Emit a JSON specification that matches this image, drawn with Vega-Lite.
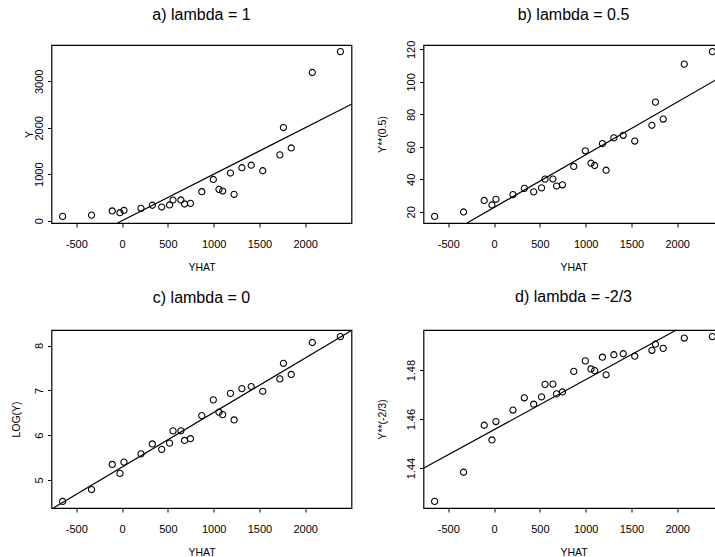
{
  "$schema": "https://vega.github.io/schema/vega-lite/v6.json",
  "background": "white",
  "padding": {"left": 10.5, "top": 5, "right": 0, "bottom": 0},
  "datasets": {
    "pts": [
      {"YHAT": -650, "Y": 92, "Y05": 17.18, "LOGY": 4.522, "Y23": 1.4264},
      {"YHAT": -334, "Y": 120, "Y05": 19.91, "LOGY": 4.787, "Y23": 1.4383},
      {"YHAT": -108, "Y": 210, "Y05": 26.98, "LOGY": 5.347, "Y23": 1.4575},
      {"YHAT": -24, "Y": 172, "Y05": 24.23, "LOGY": 5.147, "Y23": 1.4515},
      {"YHAT": 20, "Y": 221, "Y05": 27.73, "LOGY": 5.398, "Y23": 1.459},
      {"YHAT": 206, "Y": 266, "Y05": 30.62, "LOGY": 5.583, "Y23": 1.4637},
      {"YHAT": 330, "Y": 332, "Y05": 34.44, "LOGY": 5.805, "Y23": 1.4687},
      {"YHAT": 432, "Y": 294, "Y05": 32.29, "LOGY": 5.684, "Y23": 1.4661},
      {"YHAT": 518, "Y": 338, "Y05": 34.77, "LOGY": 5.823, "Y23": 1.4691},
      {"YHAT": 556, "Y": 444, "Y05": 40.14, "LOGY": 6.096, "Y23": 1.4742},
      {"YHAT": 642, "Y": 445, "Y05": 40.19, "LOGY": 6.098, "Y23": 1.4743},
      {"YHAT": 682, "Y": 359, "Y05": 35.89, "LOGY": 5.883, "Y23": 1.4703},
      {"YHAT": 746, "Y": 373, "Y05": 36.63, "LOGY": 5.922, "Y23": 1.4711},
      {"YHAT": 870, "Y": 624, "Y05": 47.96, "LOGY": 6.436, "Y23": 1.4795},
      {"YHAT": 996, "Y": 887, "Y05": 57.57, "LOGY": 6.788, "Y23": 1.4838},
      {"YHAT": 1058, "Y": 674, "Y05": 49.92, "LOGY": 6.513, "Y23": 1.4805},
      {"YHAT": 1098, "Y": 638, "Y05": 48.52, "LOGY": 6.458, "Y23": 1.4798},
      {"YHAT": 1183, "Y": 1026, "Y05": 62.06, "LOGY": 6.933, "Y23": 1.4853},
      {"YHAT": 1223, "Y": 567, "Y05": 45.62, "LOGY": 6.34, "Y23": 1.4781},
      {"YHAT": 1308, "Y": 1140, "Y05": 65.53, "LOGY": 7.039, "Y23": 1.4863},
      {"YHAT": 1410, "Y": 1194, "Y05": 67.11, "LOGY": 7.085, "Y23": 1.4867},
      {"YHAT": 1536, "Y": 1075, "Y05": 63.57, "LOGY": 6.98, "Y23": 1.4857},
      {"YHAT": 1723, "Y": 1417, "Y05": 73.29, "LOGY": 7.256, "Y23": 1.4881},
      {"YHAT": 1762, "Y": 2005, "Y05": 87.55, "LOGY": 7.603, "Y23": 1.4906},
      {"YHAT": 1847, "Y": 1565, "Y05": 77.12, "LOGY": 7.356, "Y23": 1.4889},
      {"YHAT": 2077, "Y": 3190, "Y05": 110.96, "LOGY": 8.068, "Y23": 1.4931},
      {"YHAT": 2384, "Y": 3640, "Y05": 118.66, "LOGY": 8.2, "Y23": 1.4937}
    ],
    "fits": [
      {"panel": "a", "YHAT": -50, "val": -50},
      {"panel": "a", "YHAT": 2505, "val": 2505},
      {"panel": "b", "YHAT": -296, "val": 13.12},
      {"panel": "b", "YHAT": 2505, "val": 103.9},
      {"panel": "c", "YHAT": -751, "val": 4.375},
      {"panel": "c", "YHAT": 2505, "val": 8.338},
      {"panel": "d", "YHAT": -771.4, "val": 1.4399},
      {"panel": "d", "YHAT": 1990, "val": 1.4964}
    ]
  },
  "config": {
    "view": {"stroke": "black", "strokeWidth": 1.2},
    "font": "Liberation Sans",
    "title": {"font": "Liberation Sans", "fontSize": 16, "fontWeight": "normal", "color": "black", "baseline": "alphabetic", "offset": 22.5, "anchor": "middle", "frame": "group"},
    "axis": {"domain": false, "grid": false, "ticks": true, "tickColor": "black", "tickSize": 4, "tickWidth": 1, "tickCount": 12, "labelFont": "Liberation Sans", "labelFontSize": 11, "labelColor": "black", "labelOverlap": false, "labelBound": false, "labelFlush": false, "labelSeparation": 0, "titleFont": "Liberation Sans", "titleFontSize": 10.5, "titleFontWeight": "normal", "titleColor": "black"},
    "axisX": {"labelBaseline": "alphabetic", "labelPadding": 20.5, "labelAngle": 0, "titleBaseline": "alphabetic", "titleY": 47},
    "axisY": {"labelAngle": 270, "labelAlign": "center", "labelBaseline": "alphabetic", "labelPadding": 5, "titleAngle": 270, "titleBaseline": "alphabetic", "titleAlign": "center", "labelOverlap": false}
  },
  "bounds": "flush",
  "columns": 2,
  "spacing": {"row": 107, "column": 72},
  "concat": [
    {
      "width": 300, "height": 178,
      "title": "a) lambda = 1",
      "layer": [
        {
          "data": {"name": "pts"},
          "mark": {"type": "point", "shape": "circle", "filled": false, "color": "black", "size": 38, "strokeWidth": 1.1, "opacity": 1},
          "encoding": {
            "x": {"field": "YHAT", "type": "quantitative", "scale": {"domain": [-771.4, 2505.4], "nice": false, "zero": false}, "axis": {"title": "YHAT", "values": [-500, 0, 500, 1000, 1500, 2000], "tickCount": 12, "labelExpr": "'' + datum.value", "labelOverlap": false}},
            "y": {"field": "Y", "type": "quantitative", "scale": {"domain": [-50, 3782], "nice": false, "zero": false}, "axis": {"title": "Y", "values": [0, 1000, 2000, 3000], "tickCount": 12, "labelExpr": "'' + datum.value", "titleX": -19, "labelOverlap": false}}
          }
        },
        {
          "data": {"name": "fits"},
          "transform": [{"filter": "datum.panel == 'a'"}],
          "mark": {"type": "line", "color": "black", "strokeWidth": 1.2},
          "encoding": {
            "x": {"field": "YHAT", "type": "quantitative"},
            "y": {"field": "val", "type": "quantitative"}
          }
        }
      ]
    },
    {
      "width": 300, "height": 178,
      "title": {"text": "b) lambda = 0.5", "offset": 17.7},
      "layer": [
        {
          "data": {"name": "pts"},
          "mark": {"type": "point", "shape": "circle", "filled": false, "color": "black", "size": 38, "strokeWidth": 1.1, "opacity": 1},
          "encoding": {
            "x": {"field": "YHAT", "type": "quantitative", "scale": {"domain": [-771.4, 2505.4], "nice": false, "zero": false}, "axis": {"title": "YHAT", "values": [-500, 0, 500, 1000, 1500, 2000], "tickCount": 12, "labelExpr": "'' + datum.value", "labelOverlap": false}},
            "y": {"field": "Y05", "type": "quantitative", "scale": {"domain": [13.12, 122.72], "nice": false, "zero": false}, "axis": {"title": "Y**(0.5)", "values": [20, 40, 60, 80, 100, 120], "tickCount": 12, "labelExpr": "'' + datum.value", "titleX": -38.5, "labelOverlap": false}}
          }
        },
        {
          "data": {"name": "fits"},
          "transform": [{"filter": "datum.panel == 'b'"}],
          "mark": {"type": "line", "color": "black", "strokeWidth": 1.2},
          "encoding": {
            "x": {"field": "YHAT", "type": "quantitative"},
            "y": {"field": "val", "type": "quantitative"}
          }
        }
      ]
    },
    {
      "width": 300, "height": 178,
      "title": "c) lambda = 0",
      "layer": [
        {
          "data": {"name": "pts"},
          "mark": {"type": "point", "shape": "circle", "filled": false, "color": "black", "size": 38, "strokeWidth": 1.1, "opacity": 1},
          "encoding": {
            "x": {"field": "YHAT", "type": "quantitative", "scale": {"domain": [-771.4, 2505.4], "nice": false, "zero": false}, "axis": {"title": "YHAT", "values": [-500, 0, 500, 1000, 1500, 2000], "tickCount": 12, "labelExpr": "'' + datum.value", "labelOverlap": false}},
            "y": {"field": "LOGY", "type": "quantitative", "scale": {"domain": [4.375, 8.347], "nice": false, "zero": false}, "axis": {"title": "LOG(Y)", "values": [5, 6, 7, 8], "tickCount": 12, "labelExpr": "'' + datum.value", "titleX": -32, "labelOverlap": false}}
          }
        },
        {
          "data": {"name": "fits"},
          "transform": [{"filter": "datum.panel == 'c'"}],
          "mark": {"type": "line", "color": "black", "strokeWidth": 1.2},
          "encoding": {
            "x": {"field": "YHAT", "type": "quantitative"},
            "y": {"field": "val", "type": "quantitative"}
          }
        }
      ]
    },
    {
      "width": 300, "height": 178,
      "title": "d) lambda = -2/3",
      "layer": [
        {
          "data": {"name": "pts"},
          "mark": {"type": "point", "shape": "circle", "filled": false, "color": "black", "size": 38, "strokeWidth": 1.1, "opacity": 1},
          "encoding": {
            "x": {"field": "YHAT", "type": "quantitative", "scale": {"domain": [-771.4, 2505.4], "nice": false, "zero": false}, "axis": {"title": "YHAT", "values": [-500, 0, 500, 1000, 1500, 2000], "tickCount": 12, "labelExpr": "'' + datum.value", "labelOverlap": false}},
            "y": {"field": "Y23", "type": "quantitative", "scale": {"domain": [1.4237, 1.4964], "nice": false, "zero": false}, "axis": {"title": "Y**(-2/3)", "values": [1.44, 1.46, 1.48], "tickCount": 12, "labelExpr": "format(datum.value, '.2f')", "titleX": -38.5, "labelOverlap": false}}
          }
        },
        {
          "data": {"name": "fits"},
          "transform": [{"filter": "datum.panel == 'd'"}],
          "mark": {"type": "line", "color": "black", "strokeWidth": 1.2},
          "encoding": {
            "x": {"field": "YHAT", "type": "quantitative"},
            "y": {"field": "val", "type": "quantitative"}
          }
        }
      ]
    }
  ]
}
